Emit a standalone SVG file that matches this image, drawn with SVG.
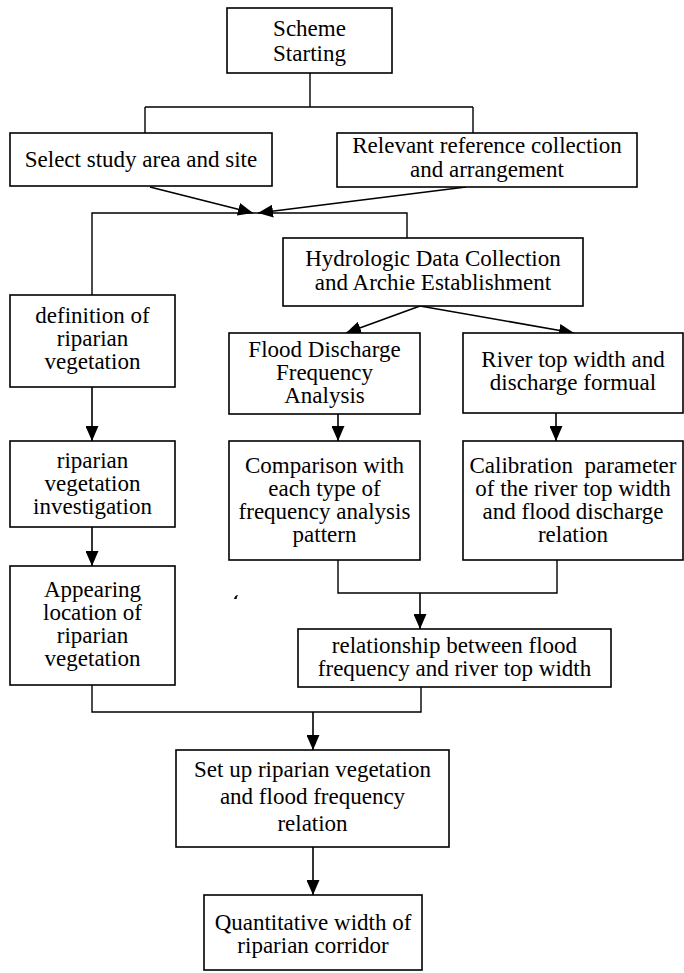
<svg xmlns="http://www.w3.org/2000/svg" width="684" height="973" viewBox="0 0 684 973">
<style>
  .box { fill: #fff; stroke: #000; stroke-width: 1.6; }
  .t { font-family: "Liberation Serif", "Times New Roman", serif; font-size: 23px; fill: #000; text-anchor: middle; }
  .c { fill: none; stroke: #000; stroke-width: 1.4; }
  .a { fill: none; stroke: #000; stroke-width: 1.6; marker-end: url(#ah); }
</style>
<defs>
  <marker id="ah" markerUnits="userSpaceOnUse" markerWidth="16" markerHeight="13" refX="15" refY="6.5" orient="auto">
    <path d="M0,0 L15,6.5 L0,13 z" fill="#000"/>
  </marker>
</defs>
<rect width="684" height="973" fill="#fff"/>
<g id="connectors">
  <path class="c" d="M310 73 V107 M145 107 H473 M145 107 V133 M473 107 V133"/>
  <line class="a" x1="150" y1="187" x2="253" y2="213"/>
  <line class="a" x1="466" y1="187" x2="258" y2="213"/>
  <path class="c" d="M92 295 V213 H407 V238"/>
  <line class="a" x1="420" y1="306" x2="346" y2="333"/>
  <line class="a" x1="420" y1="306" x2="574" y2="333"/>
  <line class="a" x1="92" y1="387" x2="92" y2="441"/>
  <line class="a" x1="92" y1="527" x2="92" y2="566"/>
  <line class="a" x1="338" y1="414" x2="338" y2="441"/>
  <line class="a" x1="556" y1="413" x2="556" y2="441"/>
  <path class="c" d="M338 560 V593 H557 V560"/>
  <line class="a" x1="420" y1="593" x2="420" y2="629"/>
  <path class="c" d="M92 685 V712 H421 V687"/>
  <line class="a" x1="313" y1="712" x2="313" y2="750"/>
  <line class="a" x1="313" y1="847" x2="313" y2="895"/>
</g>
<g id="scheme">
  <rect class="box" x="227" y="8" width="165" height="65"/>
  <text class="t" x="309.5" y="36">Scheme</text>
  <text class="t" x="309.5" y="61">Starting</text>
</g>
<g id="select">
  <rect class="box" x="10" y="133" width="262" height="53"/>
  <text class="t" x="141" y="167">Select study area and site</text>
</g>
<g id="relevant">
  <rect class="box" x="337" y="133" width="300" height="54"/>
  <text class="t" x="487" y="153">Relevant reference collection</text>
  <text class="t" x="487" y="177">and arrangement</text>
</g>
<g id="hydrologic">
  <rect class="box" x="283" y="238" width="300" height="68"/>
  <text class="t" x="433" y="266">Hydrologic Data Collection</text>
  <text class="t" x="433" y="290">and Archie Establishment</text>
</g>
<g id="definition">
  <rect class="box" x="10" y="295" width="165" height="92"/>
  <text class="t" x="92.5" y="323">definition of</text>
  <text class="t" x="92.5" y="346">riparian</text>
  <text class="t" x="92.5" y="369">vegetation</text>
</g>
<g id="flood">
  <rect class="box" x="229" y="333" width="191" height="81"/>
  <text class="t" x="324.5" y="357">Flood Discharge</text>
  <text class="t" x="324.5" y="380">Frequency</text>
  <text class="t" x="324.5" y="403">Analysis</text>
</g>
<g id="river">
  <rect class="box" x="463" y="333" width="220" height="80"/>
  <text class="t" x="573" y="367">River top width and</text>
  <text class="t" x="573" y="390">discharge formual</text>
</g>
<g id="investigation">
  <rect class="box" x="10" y="441" width="165" height="86"/>
  <text class="t" x="92.5" y="468">riparian</text>
  <text class="t" x="92.5" y="491">vegetation</text>
  <text class="t" x="92.5" y="514">investigation</text>
</g>
<g id="comparison">
  <rect class="box" x="229" y="441" width="191" height="119"/>
  <text class="t" x="324.5" y="473">Comparison with</text>
  <text class="t" x="324.5" y="496">each type of</text>
  <text class="t" x="324.5" y="519">frequency analysis</text>
  <text class="t" x="324.5" y="542">pattern</text>
</g>
<g id="calibration">
  <rect class="box" x="463" y="441" width="220" height="119"/>
  <text class="t" x="573" y="473" xml:space="preserve">Calibration  parameter</text>
  <text class="t" x="573" y="496">of the river top width</text>
  <text class="t" x="573" y="519">and flood discharge</text>
  <text class="t" x="573" y="542">relation</text>
</g>
<g id="appearing">
  <rect class="box" x="10" y="566" width="165" height="119"/>
  <text class="t" x="92.5" y="597">Appearing</text>
  <text class="t" x="92.5" y="620">location of</text>
  <text class="t" x="92.5" y="643">riparian</text>
  <text class="t" x="92.5" y="666">vegetation</text>
</g>
<g id="relationship">
  <rect class="box" x="298" y="629" width="313" height="58"/>
  <text class="t" x="454.5" y="653">relationship between flood</text>
  <text class="t" x="454.5" y="676">frequency and river top width</text>
</g>
<g id="setup">
  <rect class="box" x="176" y="750" width="273" height="97"/>
  <text class="t" x="312.5" y="777">Set up riparian vegetation</text>
  <text class="t" x="312.5" y="804">and flood frequency</text>
  <text class="t" x="312.5" y="831">relation</text>
</g>
<g id="quantitative">
  <rect class="box" x="204" y="895" width="218" height="75"/>
  <text class="t" x="313" y="930">Quantitative width of</text>
  <text class="t" x="313" y="953">riparian corridor</text>
</g>
<path d="M234 599 q1 -4 4 -4 l-1 2 q-1 1 0 2 z" fill="#000"/>
</svg>
